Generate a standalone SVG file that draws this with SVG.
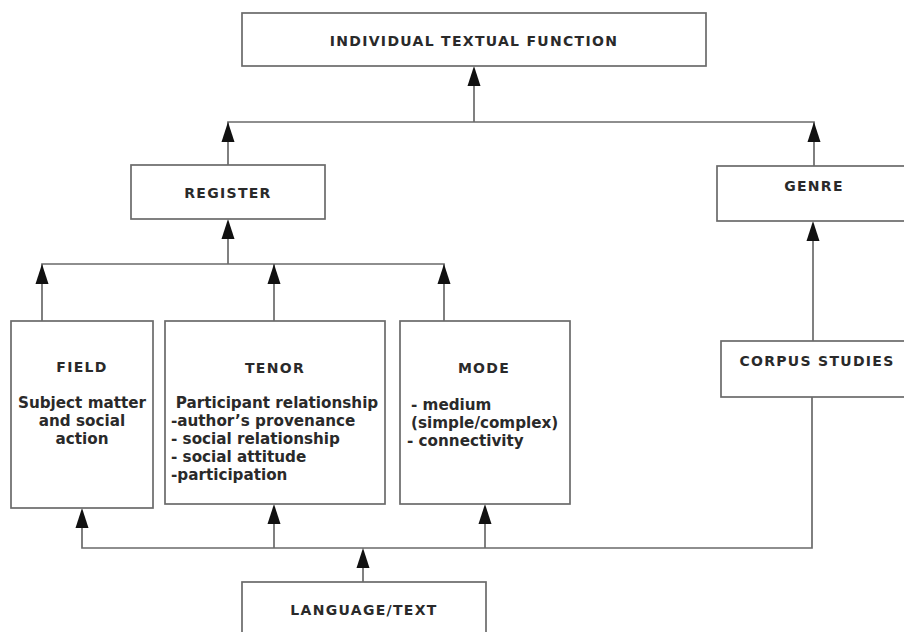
<svg xmlns="http://www.w3.org/2000/svg" width="904" height="632" viewBox="0 0 904 632">
  <style>
    .box { fill: #fff; stroke: #6a6a6a; stroke-width: 1.7; }
    .wire { fill: none; stroke: #6a6a6a; stroke-width: 1.7; }
    .head { fill: #111; }
    text { font-family: "DejaVu Sans", Verdana, sans-serif; font-weight: bold; fill: #2a2a2a; }
    .title { font-size: 14px; letter-spacing: 1.3px; text-anchor: middle; }
    .body { font-size: 15.2px; }
    .mid { text-anchor: middle; }
  </style>
  <defs>
    <!-- upward arrowhead, tip at origin -->
    <path id="up" class="head" d="M0,0 L6.5,20 L-6.5,20 Z"/>
  </defs>
  <rect width="904" height="632" fill="#fff"/>

  <g id="connectors">
    <!-- to INDIVIDUAL TEXTUAL FUNCTION -->
    <path class="wire" d="M474,122 V80"/>
    <path class="wire" d="M228,165 V122 H814 V166"/>
    <!-- into REGISTER -->
    <path class="wire" d="M228,264 V232"/>
    <path class="wire" d="M42,321 V264 H444 V321"/>
    <path class="wire" d="M274,264 V321"/>
    <!-- into GENRE -->
    <path class="wire" d="M813,341 V235"/>
    <!-- from LANGUAGE/TEXT -->
    <path class="wire" d="M363,582 V560"/>
    <path class="wire" d="M82,521 V548 H812 V397"/>
    <path class="wire" d="M274,517 V548"/>
    <path class="wire" d="M485,517 V548"/>
    <!-- arrowheads -->
    <use href="#up" x="474" y="66"/>
    <use href="#up" x="228" y="122"/>
    <use href="#up" x="814" y="122"/>
    <use href="#up" x="228" y="219"/>
    <use href="#up" x="813" y="221"/>
    <use href="#up" x="42" y="264"/>
    <use href="#up" x="274" y="264"/>
    <use href="#up" x="444" y="264"/>
    <use href="#up" x="82" y="508"/>
    <use href="#up" x="274" y="504"/>
    <use href="#up" x="485" y="504"/>
    <use href="#up" x="363" y="548"/>
  </g>

  <g id="individual-textual-function">
    <rect class="box" x="242" y="13" width="464" height="53"/>
    <text class="title" x="474" y="46">INDIVIDUAL TEXTUAL FUNCTION</text>
  </g>

  <g id="register">
    <rect class="box" x="131" y="165" width="194" height="54"/>
    <text class="title" x="228" y="198">REGISTER</text>
  </g>

  <g id="genre">
    <rect class="box" x="717" y="166" width="200" height="55"/>
    <text class="title" x="814" y="191">GENRE</text>
  </g>

  <g id="field">
    <rect class="box" x="11" y="321" width="142" height="187"/>
    <text class="title" x="82" y="372">FIELD</text>
    <text class="body mid" x="82" y="408">Subject matter</text>
    <text class="body mid" x="82" y="426">and social</text>
    <text class="body mid" x="82" y="444">action</text>
  </g>

  <g id="tenor">
    <rect class="box" x="165" y="321" width="220" height="183"/>
    <text class="title" x="275" y="373">TENOR</text>
    <text class="body mid" x="277" y="408">Participant relationship</text>
    <text class="body" x="171" y="426">-author’s provenance</text>
    <text class="body" x="171" y="444">- social relationship</text>
    <text class="body" x="171" y="462">- social attitude</text>
    <text class="body" x="171" y="480">-participation</text>
  </g>

  <g id="mode">
    <rect class="box" x="400" y="321" width="170" height="183"/>
    <text class="title" x="484" y="373">MODE</text>
    <text class="body" x="411" y="410">- medium</text>
    <text class="body" x="411" y="428">(simple/complex)</text>
    <text class="body" x="407" y="446">- connectivity</text>
  </g>

  <g id="corpus-studies">
    <rect class="box" x="721" y="341" width="200" height="56"/>
    <text class="title" x="817" y="366">CORPUS STUDIES</text>
  </g>

  <g id="language-text">
    <rect class="box" x="242" y="582" width="244" height="60"/>
    <text class="title" x="364" y="615">LANGUAGE/TEXT</text>
  </g>
</svg>
